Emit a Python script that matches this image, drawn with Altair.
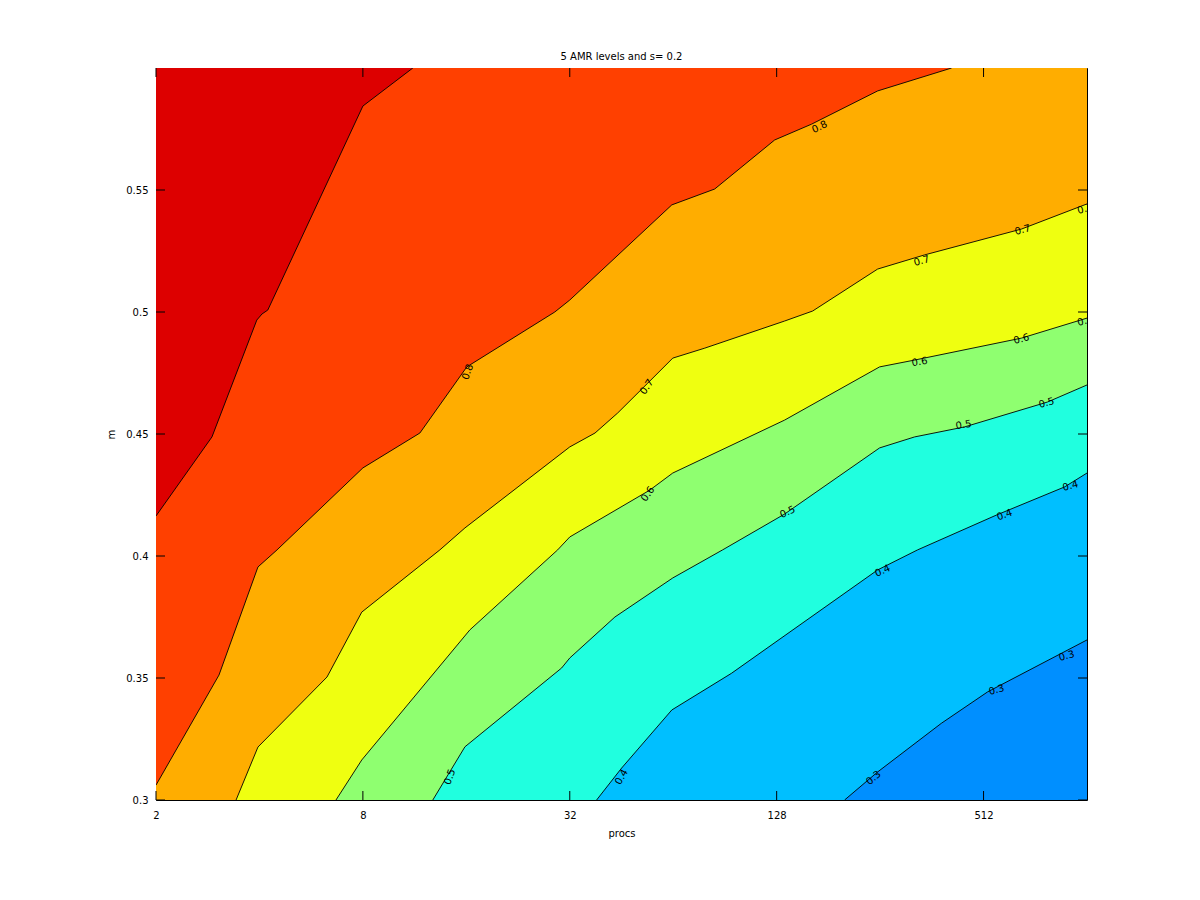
import altair as alt
import pandas as pd

# ---- contour lines (x = procs, y = m) ----
c03_procs = [201.8, 251.8, 385.6, 526.0, 1024]
c03_m = [0.3, 0.3115, 0.3314, 0.3443, 0.3656]

c04_procs = [38.3, 45.3, 63.4, 94.5, 251.8, 329.0, 558.6, 881.0, 1024]
c04_m = [0.3, 0.3131, 0.3369, 0.3519, 0.3943, 0.4025, 0.4168, 0.4283, 0.4340]

c05_procs = [12.78, 15.85, 30.3, 32.0, 43.3, 63.8, 89.1, 135.0, 255.1, 322.5, 450.6, 785.7, 1024]
c05_m = [0.3, 0.3218, 0.3541, 0.3582, 0.375, 0.3910, 0.4025, 0.4172, 0.4443, 0.4488, 0.4529, 0.4631, 0.4701]

c06_procs = [6.68, 7.94, 16.38, 29.5, 32.0, 54.7, 63.8, 135.0, 255.1, 322.5, 660.3, 1024]
c06_m = [0.3, 0.3164, 0.3697, 0.4025, 0.4078, 0.4270, 0.4340, 0.4557, 0.4775, 0.4803, 0.4893, 0.4975]

c07_procs = [3.42, 3.96, 6.29, 7.94, 13.4, 15.85, 32.0, 37.9, 44.1, 54.0, 63.8, 79.1, 135.0, 162.9,
             251.8, 344.9, 660.3, 1024]
c07_m = [0.3, 0.3217, 0.3504, 0.3770, 0.4025, 0.4115, 0.4447, 0.4504, 0.4586, 0.4709, 0.4811, 0.4852,
         0.4963, 0.5004, 0.5176, 0.5234, 0.5340, 0.5443]

c08_procs = [2.0, 3.05, 3.96, 4.50, 8.0, 11.72, 16.05, 28.94, 32.0, 63.4, 84.5, 126.3, 161.8, 251.8, 413.3]
c08_m = [0.3061, 0.3512, 0.3955, 0.4025, 0.4361, 0.4504, 0.4775, 0.5, 0.5049, 0.5439, 0.5504, 0.5705,
         0.5770, 0.5906, 0.6]

c09_procs = [2.0, 2.91, 3.93, 4.07, 4.23, 8.0, 11.18]
c09_m = [0.4164, 0.4488, 0.4967, 0.4992, 0.5008, 0.5844, 0.6]

levels = [0.3, 0.4, 0.5, 0.6, 0.7, 0.8, 0.9]
level_colors = ["#00bfff", "#20ffdf", "#8fff70", "#efff10", "#ffad00", "#ff4000", "#dd0000"]
below_color = "#008fff"

x_ticks = [2, 8, 32, 128, 512]
y_ticks = [0.3, 0.35, 0.4, 0.45, 0.5, 0.55]

# ---- contour labels ----
label_text = ["0.8", "0.8",
              "0.7", "0.7", "0.7", "0.7",
              "0.6", "0.6", "0.6", "0.6",
              "0.5", "0.5", "0.5", "0.5",
              "0.4", "0.4", "0.4", "0.4",
              "0.3", "0.3", "0.3"]
label_procs = [16.16, 170.7,
               53.6, 338.0, 665.0, 1012.0,
               54.0, 333.6, 660.0, 1012.0,
               14.33, 137.7, 447.8, 780.9,
               45.3, 260.3, 589.5, 917.0,
               245.0, 558.6, 893.0]
label_m = [0.4754, 0.5758,
           0.4693, 0.5209, 0.5336, 0.5422,
           0.4254, 0.4795, 0.4889, 0.4963,
           0.3094, 0.4180, 0.4537, 0.4627,
           0.3094, 0.3939, 0.4168, 0.4287,
           0.3090, 0.3451, 0.3590]
label_angle = [290, 335,
               305, 345, 345, 345,
               305, 350, 345, 345,
               290, 335, 350, 345,
               300, 335, 340, 345,
               320, 345, 345]

contours = {
    0.3: (c03_procs, c03_m), 0.4: (c04_procs, c04_m), 0.5: (c05_procs, c05_m),
    0.6: (c06_procs, c06_m), 0.7: (c07_procs, c07_m), 0.8: (c08_procs, c08_m),
    0.9: (c09_procs, c09_m),
}

X_MIN, X_MAX = 2, 1024
Y_MIN, Y_MAX = 0.3, 0.6
W, H = 931, 732
FONT = "DejaVu Sans"

x_enc = alt.X("procs:Q",
              scale=alt.Scale(type="log", base=2, domain=[X_MIN, X_MAX], nice=False, zero=False),
              axis=alt.Axis(values=x_ticks, format="d", ticks=False, tickSize=0, domain=False,
                            grid=False, labelPadding=10, labelFlush=False,
                            title="procs", titlePadding=8))
y_enc = alt.Y("m:Q",
              scale=alt.Scale(domain=[Y_MIN, Y_MAX], nice=False, zero=False),
              axis=alt.Axis(values=y_ticks, format=".2~f", ticks=False, tickSize=0, domain=False,
                            grid=False, labelPadding=8, labelFlush=False,
                            title="m", titlePadding=9))

layers = []
# filled regions: region above each contour line, painted in increasing level order
for lev, col in zip(levels, level_colors):
    px, pm = contours[lev]
    px, pm = list(px), list(pm)
    if pm[0] == Y_MIN and px[0] > X_MIN:
        px = [X_MIN] + px
        pm = [Y_MIN] + pm
    df = pd.DataFrame({"procs": px, "m": pm})
    layers.append(
        alt.Chart(df).mark_area(color=col, clip=True, interpolate="linear").encode(
            x=x_enc, y=y_enc, y2=alt.datum(Y_MAX)
        )
    )

# contour lines
rows = []
for lev in levels:
    px, pm = contours[lev]
    for a, b in zip(px, pm):
        rows.append({"procs": a, "m": b, "level": lev})
lines_df = pd.DataFrame(rows)
layers.append(
    alt.Chart(lines_df).mark_line(color="black", strokeWidth=0.9, clip=True).encode(
        x=x_enc, y=y_enc, detail="level:N"
    )
)

# contour labels
lab_df = pd.DataFrame({"procs": label_procs, "m": label_m, "text": label_text, "angle": label_angle})
layers.append(
    alt.Chart(lab_df).mark_text(font=FONT, fontSize=10, color="black", clip=True,
                                align="center", baseline="middle").encode(
        x=x_enc, y=y_enc, text="text:N", angle=alt.Angle("angle:Q", scale=None)
    )
)

# inward tick marks on all four sides
xt = pd.DataFrame({"procs": x_ticks})
yt = pd.DataFrame({"m": y_ticks})
TL = 9
layers.append(alt.Chart(xt).mark_rule(color="black").encode(x=x_enc, y=alt.value(H), y2=alt.value(H - TL)))
layers.append(alt.Chart(xt).mark_rule(color="black").encode(x=x_enc, y=alt.value(0), y2=alt.value(TL)))
layers.append(alt.Chart(yt).mark_rule(color="black").encode(y=y_enc, x=alt.value(0), x2=alt.value(TL)))
layers.append(alt.Chart(yt).mark_rule(color="black").encode(y=y_enc, x=alt.value(W), x2=alt.value(W - TL)))

chart = alt.layer(*layers).properties(
    width=W, height=H,
    title=alt.TitleParams("5 AMR levels and s= 0.2", font=FONT, fontSize=10, fontWeight="normal",
                          color="black", anchor="middle", offset=6),
    autosize=alt.AutoSizeParams(type="none"),
    padding={"left": 148, "top": 60, "right": 105, "bottom": 92},
).configure_view(
    fill=below_color, stroke="black", strokeWidth=1
).configure_axis(
    labelFont=FONT, labelFontSize=10, labelColor="black",
    titleFont=FONT, titleFontSize=10, titleFontWeight="normal", titleColor="black"
)

chart.save("out.html", embed_options={"renderer": "svg", "actions": False})
